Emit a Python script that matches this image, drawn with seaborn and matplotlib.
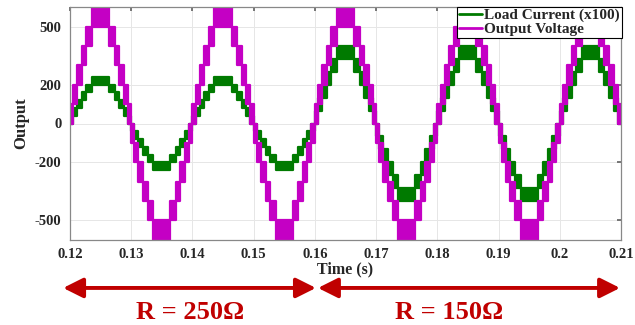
import seaborn as sns
import matplotlib.pyplot as plt
import matplotlib.transforms as mtrans
from matplotlib.lines import Line2D

# window shown
t_start = 0.12
t_end = 0.21
half_period = 0.01          # 50 Hz

# switching instants inside one half cycle (ms after the zero crossing)
half_edges_ms = [0, 0.55, 1.2, 1.95, 2.7, 3.6, 6.4, 7.3, 8.05, 8.8, 9.45, 10]
# level band held between those instants (band k spans k..k+1 levels)
half_bands = [0, 1, 2, 3, 4, 5, 4, 3, 2, 1, 0]
level_step = 100            # volts per level

# load resistance before / after the change
load_change = 0.16
r_before = 250
r_after = 150
current_scale = 100

x_ticks = [0.12, 0.13, 0.14, 0.15, 0.16, 0.17, 0.18, 0.19, 0.2, 0.21]
x_labels = ['0.12', '0.13', '0.14', '0.15', '0.16', '0.17', '0.18', '0.19', '0.2', '0.21']
y_ticks = [-500, -200, 0, 200, 500]

green = '#007a00'
magenta = '#c400c4'
red = '#c00000'

# build the band polygons for voltage and current
t, v_lo, v_hi, i_lo, i_hi = [], [], [], [], []
n_half = int(round((t_end - t_start) / half_period))
for h in range(n_half):
    t0 = t_start + h * half_period
    sign = 1 if h % 2 == 0 else -1
    r = r_before if t0 < load_change - 1e-9 else r_after
    for k, band in enumerate(half_bands):
        a = t0 + half_edges_ms[k] / 1000
        b = t0 + half_edges_ms[k + 1] / 1000
        lo, hi = band * level_step, (band + 1) * level_step
        if sign < 0:
            lo, hi = -hi, -lo
        for x in (a, b):
            t.append(x)
            v_lo.append(lo)
            v_hi.append(hi)
            i_lo.append(lo / r * current_scale)
            i_hi.append(hi / r * current_scale)

sns.set_theme(style='whitegrid')
plt.rcParams['font.family'] = ['Liberation Serif', 'DejaVu Serif']
plt.rcParams['font.weight'] = 'bold'
plt.rcParams['axes.unicode_minus'] = False

fig = plt.figure(figsize=(6.35, 3.25), dpi=100)
ax = fig.add_axes([0.110, 0.262, 0.868, 0.716])
ax.set_facecolor('white')

ax.fill_between(t, i_lo, i_hi, color=green, lw=1.6, edgecolor=green)
ax.fill_between(t, v_lo, v_hi, color=magenta, lw=1.6, edgecolor=magenta)

ax.set_xlim(t_start, t_end)
ax.set_ylim(-600, 600)
ax.set_xticks(x_ticks)
ax.set_xticklabels(x_labels)
ax.set_yticks(y_ticks)
ax.grid(True, color='#e6e6e6', lw=0.7)
ax.tick_params(direction='in', length=3, color='#666666', top=True, right=True,
               labelsize=10.5, pad=6)
for lab in ax.get_xticklabels() + ax.get_yticklabels():
    lab.set_fontweight('bold')
for s in ax.spines.values():
    s.set_color('#888888')
    s.set_linewidth(0.9)

ax.set_xlabel('Time (s)', fontsize=11.5, fontweight='bold', labelpad=0)
ax.set_ylabel('Output', fontsize=12, fontweight='bold', labelpad=4)

handles = [Line2D([], [], color=green, lw=2), Line2D([], [], color=magenta, lw=2)]
leg = ax.legend(handles, ['Load Current (x100)', 'Output Voltage'], loc='upper right',
                bbox_to_anchor=(1.0015, 1.002), frameon=True, fancybox=False,
                prop={'family': 'Liberation Serif', 'weight': 'bold', 'size': 11},
                handlelength=1.5, handletextpad=0.15, borderpad=0.12,
                labelspacing=0.0, borderaxespad=0)
leg.get_frame().set_edgecolor('black')
leg.get_frame().set_linewidth(0.8)
leg.get_frame().set_alpha(1)

# resistance annotation arrows under the time axis
arrow_y = 0.114
for xa, xb in [(0.1189, 0.16018), (0.16051, 0.20984)]:
    ax.annotate('', xy=(xa, arrow_y), xytext=(xb, arrow_y),
                xycoords=('data', 'figure fraction'), textcoords=('data', 'figure fraction'),
                arrowprops=dict(arrowstyle='<|-|>', color=red, lw=2.8,
                                mutation_scale=30, shrinkA=0, shrinkB=0),
                annotation_clip=False)
blend = mtrans.blended_transform_factory(ax.transData, fig.transFigure)
ax.text(0.1397, 0.037, 'R = 250\u03a9', transform=blend,
        ha='center', va='center', color=red, fontsize=19, fontweight='bold')
ax.text(0.1820, 0.037, 'R = 150\u03a9', transform=blend,
        ha='center', va='center', color=red, fontsize=19, fontweight='bold')

fig.savefig('out.png', dpi=100)
